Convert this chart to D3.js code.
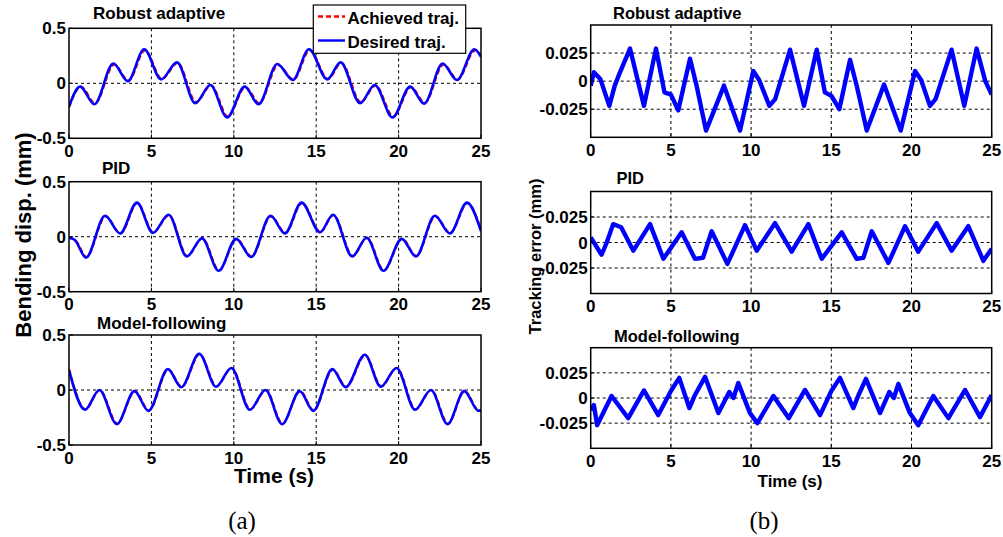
<!DOCTYPE html>
<html>
<head>
<meta charset="utf-8">
<script src="https://cdn.jsdelivr.net/npm/d3@7"></script>
<style>
  body { margin: 0; background: #fff; }
  svg { display: block; font-family: "Liberation Sans", Arial, sans-serif; }
</style>
</head>
<body>
<script>
// ---- data ----
const xTicks = [0, 5, 10, 15, 20, 25];
const dispTicks = [-0.5, 0, 0.5];
const errTicks = [-0.025, 0, 0.025];
const titles = ["Robust adaptive", "PID", "Model-following"];

// (a) bending displacement, desired trajectory
const raDesT = [0, 0.67, 1.54, 2.69, 3.57, 4.56, 5.59, 6.55, 7.66, 8.58, 9.59, 10.66, 11.5, 12.64, 13.58, 14.56, 15.67, 16.48, 17.66, 18.55, 19.63, 20.7, 21.55, 22.67, 23.54, 24.6, 25];
const raDesV = [-0.21, -0.03, -0.19, 0.18, 0.02, 0.31, 0.035, 0.19, -0.18, -0.015, -0.31, -0.03, -0.19, 0.175, 0.03, 0.31, 0.035, 0.19, -0.18, -0.015, -0.31, -0.03, -0.185, 0.18, 0.03, 0.31, 0.24];
const raAchT = [0, 0.72, 1.59, 2.74, 3.62, 4.61, 5.64, 6.6, 7.71, 8.63, 9.64, 10.71, 11.55, 12.69, 13.63, 14.61, 15.72, 16.53, 17.71, 18.6, 19.68, 20.75, 21.6, 22.72, 23.59, 24.65, 25];
const raAchV = [-0.22, -0.03, -0.18, 0.17, 0.025, 0.3, 0.04, 0.185, -0.17, -0.02, -0.3, -0.035, -0.18, 0.165, 0.035, 0.3, 0.04, 0.185, -0.17, -0.02, -0.3, -0.035, -0.175, 0.17, 0.035, 0.3, 0.25];

const pidDesT = [0, 0.35, 1.03, 2.19, 3.1, 4.12, 5.09, 6.04, 7.15, 8.07, 9.08, 10.14, 11.05, 12.23, 13.1, 14.11, 15.23, 16.02, 17.19, 18.06, 19.08, 20.19, 21.05, 22.2, 23.11, 24.15, 25];
const pidDesV = [-0.01, -0.03, -0.19, 0.19, 0.03, 0.31, 0.035, 0.2, -0.18, -0.015, -0.31, -0.02, -0.185, 0.19, 0.03, 0.31, 0.04, 0.2, -0.18, -0.01, -0.31, -0.02, -0.18, 0.19, 0.03, 0.31, 0.05];
const pidAchT = [0, 0.38, 1.06, 2.22, 3.13, 4.15, 5.12, 6.07, 7.18, 8.1, 9.11, 10.17, 11.08, 12.26, 13.13, 14.14, 15.26, 16.05, 17.22, 18.09, 19.11, 20.22, 21.08, 22.23, 23.14, 24.18, 25];
const pidAchV = [-0.01, -0.03, -0.185, 0.185, 0.03, 0.305, 0.04, 0.195, -0.175, -0.015, -0.305, -0.02, -0.18, 0.185, 0.035, 0.305, 0.045, 0.195, -0.175, -0.01, -0.305, -0.02, -0.175, 0.185, 0.035, 0.305, 0.06];

const mfDesT = [0, 0.97, 1.84, 2.9, 3.97, 4.82, 6.0, 6.81, 7.9, 8.92, 9.85, 10.97, 11.92, 12.93, 14.0, 14.82, 15.98, 16.79, 17.95, 18.92, 19.87, 21.0, 21.96, 22.97, 23.98, 24.85, 25];
const mfDesV = [0.18, -0.18, 0.0, -0.31, -0.01, -0.19, 0.19, 0.025, 0.33, 0.03, 0.2, -0.18, 0.0, -0.31, -0.01, -0.19, 0.19, 0.025, 0.32, 0.03, 0.2, -0.18, 0.0, -0.31, -0.01, -0.19, -0.185];
const mfAchT = [0, 1.0, 1.87, 2.93, 4.0, 4.85, 6.03, 6.84, 7.93, 8.95, 9.88, 11.0, 11.95, 12.96, 14.03, 14.85, 16.01, 16.82, 17.98, 18.95, 19.9, 21.03, 21.99, 23.0, 24.01, 24.88, 25];
const mfAchV = [0.19, -0.175, 0.0, -0.305, -0.01, -0.185, 0.185, 0.03, 0.325, 0.035, 0.2, -0.175, 0.0, -0.305, -0.01, -0.185, 0.185, 0.03, 0.315, 0.035, 0.2, -0.175, 0.0, -0.305, -0.01, -0.185, -0.18];

// (b) tracking error
const raErrT = [0, 0.2, 0.6, 1.16, 1.5, 1.8, 2.45, 3.32, 4.07, 4.6, 5.0, 5.46, 6.19, 6.6, 7.19, 8.31, 9.31, 10.14, 10.5, 11.14, 11.5, 12.43, 13.3, 14.09, 14.6, 15.0, 15.5, 16.17, 16.6, 17.21, 18.29, 19.33, 20.22, 20.6, 21.15, 21.5, 22.5, 23.29, 24.06, 24.6, 25];
const raErrV = [-0.004, 0.008, 0.002, -0.022, -0.004, 0.007, 0.029, -0.022, 0.029, -0.01, -0.012, -0.026, 0.02, -0.004, -0.044, -0.004, -0.044, 0.009, 0.001, -0.022, -0.016, 0.028, -0.022, 0.028, -0.01, -0.013, -0.025, 0.019, -0.005, -0.044, -0.003, -0.044, 0.009, 0.001, -0.022, -0.016, 0.028, -0.022, 0.029, 0.0, -0.012];

const pidErrT = [0, 0.68, 1.0, 1.4, 1.9, 2.66, 3.7, 4.53, 5.67, 6.5, 7.0, 7.54, 8.52, 9.62, 10.35, 11.49, 12.53, 13.57, 14.4, 15.65, 16.58, 17.0, 17.52, 18.56, 19.6, 20.42, 21.57, 22.5, 23.54, 24.48, 25];
const pidErrV = [0.005, -0.012, 0.0, 0.018, 0.015, -0.008, 0.018, -0.016, 0.01, -0.016, -0.015, 0.011, -0.021, 0.017, -0.008, 0.019, -0.009, 0.018, -0.016, 0.01, -0.016, -0.015, 0.011, -0.02, 0.016, -0.009, 0.019, -0.008, 0.016, -0.018, -0.006];

const mfErrT = [0, 0.2, 0.4, 1.3, 2.34, 3.32, 4.21, 5.0, 5.52, 6.15, 6.5, 7.13, 7.96, 8.64, 8.9, 9.2, 9.93, 10.39, 11.39, 12.35, 13.36, 14.3, 15.0, 15.54, 16.37, 16.7, 17.16, 18.04, 18.62, 18.9, 19.18, 19.9, 20.42, 21.36, 22.3, 23.34, 24.27, 25];
const mfErrV = [-0.012, -0.007, -0.027, 0.002, -0.02, 0.0075, -0.017, 0.007, 0.02, -0.01, 0.003, 0.021, -0.015, 0.006, 0.0, 0.015, -0.015, -0.025, 0.002, -0.02, 0.008, -0.017, 0.007, 0.02, -0.01, 0.003, 0.019, -0.015, 0.006, 0.0, 0.014, -0.015, -0.027, 0.002, -0.02, 0.008, -0.019, 0.003];

const zip = (t, v) => t.map((d, i) => [d, v[i]]);
const fmt = d => String(d);

const W = 1003, H = 537;
const svg = d3.select("body").append("svg").attr("width", W).attr("height", H);
svg.append("rect").attr("width", W).attr("height", H).attr("fill", "#fff");

const panels = [
  { x0: 69, x1: 481, y0: 28.3, y1: 138.3, dom: [-0.5, 0.5], ticks: dispTicks, tx: 93, ty: 18.5, title: titles[0], fs: 17,
    series: [{ d: zip(raAchT, raAchV), c: "#ff0000", w: 2.2, dash: "5,3" }, { d: zip(raDesT, raDesV), c: "#0000ff", w: 2.6 }], curve: d3.curveMonotoneX },
  { x0: 69, x1: 481, y0: 181.7, y1: 291.7, dom: [-0.5, 0.5], ticks: dispTicks, tx: 102, ty: 173.5, title: titles[1], fs: 17,
    series: [{ d: zip(pidAchT, pidAchV), c: "#ff0000", w: 2.2, dash: "5,3" }, { d: zip(pidDesT, pidDesV), c: "#0000ff", w: 2.6 }], curve: d3.curveMonotoneX },
  { x0: 69, x1: 481, y0: 335, y1: 445, dom: [-0.5, 0.5], ticks: dispTicks, tx: 97, ty: 328.5, title: titles[2], fs: 17,
    series: [{ d: zip(mfAchT, mfAchV), c: "#ff0000", w: 2.2, dash: "5,3" }, { d: zip(mfDesT, mfDesV), c: "#0000ff", w: 2.6 }], curve: d3.curveMonotoneX },
  { x0: 590.7, x1: 991.7, y0: 25, y1: 137.3, dom: [-0.05, 0.05], ticks: errTicks, tx: 613, ty: 18.5, title: titles[0], fs: 16.5,
    series: [{ d: zip(raErrT, raErrV), c: "#0000ff", w: 4.4 }], curve: d3.curveLinear },
  { x0: 590.7, x1: 991.7, y0: 191.5, y1: 293.5, dom: [-0.05, 0.05], ticks: errTicks, tx: 616.5, ty: 183.5, title: titles[1], fs: 16.5,
    series: [{ d: zip(pidErrT, pidErrV), c: "#0000ff", w: 4.4 }], curve: d3.curveLinear },
  { x0: 590.7, x1: 991.7, y0: 347.7, y1: 448.3, dom: [-0.05, 0.05], ticks: errTicks, tx: 614, ty: 341.5, title: titles[2], fs: 16.5,
    series: [{ d: zip(mfErrT, mfErrV), c: "#0000ff", w: 4.4 }], curve: d3.curveLinear }
];

panels.forEach((p, k) => {
  const x = d3.scaleLinear().domain([0, 25]).range([p.x0, p.x1]);
  const y = d3.scaleLinear().domain(p.dom).range([p.y1, p.y0]);
  const g = svg.append("g");
  const clipId = "clip" + k;
  g.append("clipPath").attr("id", clipId).append("rect")
    .attr("x", p.x0).attr("y", p.y0).attr("width", p.x1 - p.x0).attr("height", p.y1 - p.y0);

  // grid
  g.selectAll(".vg").data(xTicks.slice(1, -1)).join("line")
    .attr("x1", d => x(d)).attr("x2", d => x(d)).attr("y1", p.y0).attr("y2", p.y1)
    .attr("stroke", "#000").attr("stroke-width", 1).attr("stroke-dasharray", "3,3");
  g.selectAll(".hg").data(p.ticks.filter(d => d > p.dom[0] && d < p.dom[1])).join("line")
    .attr("x1", p.x0).attr("x2", p.x1).attr("y1", d => y(d)).attr("y2", d => y(d))
    .attr("stroke", "#000").attr("stroke-width", 1).attr("stroke-dasharray", "3,3");

  // lines
  const line = d3.line().x(d => x(d[0])).y(d => y(d[1])).curve(p.curve);
  p.series.forEach(s => {
    g.append("path").datum(s.d).attr("d", line).attr("clip-path", `url(#${clipId})`)
      .attr("fill", "none").attr("stroke", s.c).attr("stroke-width", s.w)
      .attr("stroke-linejoin", "round").attr("stroke-dasharray", s.dash || null);
  });

  // frame
  g.append("rect").attr("x", p.x0).attr("y", p.y0).attr("width", p.x1 - p.x0).attr("height", p.y1 - p.y0)
    .attr("fill", "none").attr("stroke", "#000").attr("stroke-width", 1.5);

  // inward ticks
  g.selectAll(".xt").data(xTicks).join("line")
    .attr("x1", d => x(d)).attr("x2", d => x(d)).attr("y1", p.y1).attr("y2", p.y1 - 4)
    .attr("stroke", "#000");
  g.selectAll(".yt").data(p.ticks).join("line")
    .attr("x1", p.x0).attr("x2", p.x0 + 4).attr("y1", d => y(d)).attr("y2", d => y(d))
    .attr("stroke", "#000");

  // tick labels
  g.selectAll(".xl").data(xTicks).join("text")
    .attr("x", d => x(d)).attr("y", p.y1 + 18.5).attr("text-anchor", "middle")
    .attr("font-size", 17).attr("font-weight", "bold").text(d => d);
  g.selectAll(".yl").data(p.ticks).join("text")
    .attr("x", p.x0 - 3).attr("y", d => y(d) + 6).attr("text-anchor", "end")
    .attr("font-size", 17).attr("font-weight", "bold").text(fmt);

  // title
  g.append("text").attr("x", p.tx).attr("y", p.ty).attr("font-size", p.fs)
    .attr("font-weight", "bold").text(p.title);
});

// legend
const leg = svg.append("g");
leg.append("rect").attr("x", 313.3).attr("y", 5).attr("width", 152.4).attr("height", 48.3)
  .attr("fill", "#fff").attr("stroke", "#000").attr("stroke-width", 1.2);
const legItems = [
  { label: "Achieved traj.", c: "#ff0000", dash: "5,3", y: 16.5 },
  { label: "Desired traj.", c: "#0000ff", dash: null, y: 40.5 }
];
legItems.forEach(it => {
  leg.append("line").attr("x1", 318).attr("x2", 345).attr("y1", it.y).attr("y2", it.y)
    .attr("stroke", it.c).attr("stroke-width", 2.4).attr("stroke-dasharray", it.dash);
  leg.append("text").attr("x", 347.5).attr("y", it.y + 7.5).attr("font-size", 17)
    .attr("font-weight", "bold").text(it.label);
});

// axis titles
svg.append("text").attr("transform", "translate(31,235) rotate(-90)").attr("text-anchor", "middle")
  .attr("font-size", 22).attr("font-weight", "bold").text("Bending disp. (mm)");
svg.append("text").attr("x", 274).attr("y", 483).attr("text-anchor", "middle")
  .attr("font-size", 21).attr("font-weight", "bold").text("Time (s)");
svg.append("text").attr("transform", "translate(541,256.5) rotate(-90)").attr("text-anchor", "middle")
  .attr("font-size", 16.5).attr("font-weight", "bold").text("Tracking error (mm)");
svg.append("text").attr("x", 790).attr("y", 487).attr("text-anchor", "middle")
  .attr("font-size", 17).attr("font-weight", "bold").text("Time (s)");

// sub-figure labels
svg.append("text").attr("x", 242).attr("y", 529).attr("text-anchor", "middle")
  .attr("font-family", "'Liberation Serif', 'DejaVu Serif', serif").attr("font-size", 25).text("(a)");
svg.append("text").attr("x", 764).attr("y", 529).attr("text-anchor", "middle")
  .attr("font-family", "'Liberation Serif', 'DejaVu Serif', serif").attr("font-size", 25).text("(b)");
</script>
</body>
</html>
